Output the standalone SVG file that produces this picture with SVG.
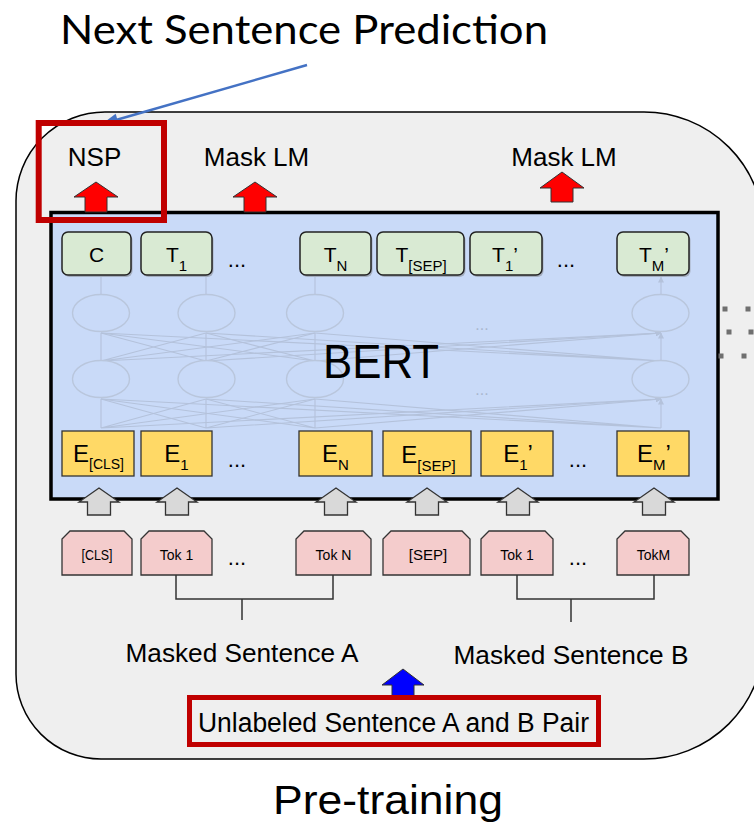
<svg xmlns="http://www.w3.org/2000/svg" width="754" height="822" viewBox="0 0 754 822">
<style>
.t{font-family:"Liberation Sans",Arial,sans-serif;fill:#000}
.tb{fill:#d9ead3;stroke:#222;stroke-width:1.5}
.sh{fill:#777;opacity:.45}
.eb{fill:#ffd966;stroke:#333;stroke-width:1.3}
.tk{fill:#f4cccc;stroke:#333;stroke-width:1.3}
.ra{fill:#ff0000;stroke:#333;stroke-width:1}
.ga{fill:#d9d9d9;stroke:#333;stroke-width:1.3}
.ba{fill:#0000ff;stroke:#333;stroke-width:1}
.br{fill:none;stroke:#333;stroke-width:1.5}
.nl{stroke:#b4c2db;stroke-width:1.1;fill:none}
.el{fill:#c9daf8;stroke:#b9c6dc;stroke-width:1.4}
.rb{fill:none;stroke:#c00000}
.dot{fill:#6f6f6f}
</style>
<defs>
<marker id="fa" viewBox="0 0 6 6" refX="5.5" refY="3" markerWidth="6" markerHeight="6" markerUnits="userSpaceOnUse" orient="auto">
<path d="M0,0 L6,3 L0,6 Z" fill="#b4c2db"/>
</marker>
</defs>
<rect width="754" height="822" fill="#fff"/>
<text class="t" x="60" y="44" font-family="Lato,'Open Sans',sans-serif" style="font-family:Lato,'Open Sans',sans-serif" font-size="40" textLength="488" lengthAdjust="spacingAndGlyphs">Next Sentence Prediction</text>

<g id="pretraining-frame">
<path d="M105,112 H644 A120,120 0 0 1 764,232 V639 A120,120 0 0 1 644,759 H101 A85,85 0 0 1 16,674 V201 A89,89 0 0 1 105,112 Z" fill="#efefef" stroke="#000" stroke-width="1.5"/>
</g>

<g id="bert">
<rect x="51" y="212.5" width="667" height="286.5" fill="#c9daf8" stroke="#000" stroke-width="3.5"/>
<g id="bert-internals">
<path class="nl" marker-end="url(#fa)" d="M101,295 V277 M206,295 V277 M315,295 V277 M661,295 V277"/>
<path class="nl" marker-end="url(#fa)" d="M101,361 L101,333 M101,361 L206,333 M101,361 L315,333 M101,361 L661,333"/>
<path class="nl" marker-end="url(#fa)" d="M206,361 L101,333 M206,361 L206,333 M206,361 L315,333 M206,361 L661,333"/>
<path class="nl" marker-end="url(#fa)" d="M315,361 L101,333 M315,361 L206,333 M315,361 L315,333 M315,361 L661,333"/>
<path class="nl" marker-end="url(#fa)" d="M661,361 L101,333 M661,361 L206,333 M661,361 L315,333 M661,361 L661,333"/>
<path class="nl" marker-end="url(#fa)" d="M101,428 L101,399 M101,428 L206,399 M101,428 L315,399 M101,428 L661,399"/>
<path class="nl" marker-end="url(#fa)" d="M206,428 L101,399 M206,428 L206,399 M206,428 L315,399 M206,428 L661,399"/>
<path class="nl" marker-end="url(#fa)" d="M315,428 L101,399 M315,428 L206,399 M315,428 L315,399 M315,428 L661,399"/>
<path class="nl" marker-end="url(#fa)" d="M661,428 L101,399 M661,428 L206,399 M661,428 L315,399 M661,428 L661,399"/>
<ellipse class="el" cx="101" cy="313" rx="28.5" ry="18.5"/>
<ellipse class="el" cx="206.5" cy="313" rx="28.5" ry="18.5"/>
<ellipse class="el" cx="315" cy="313" rx="28.5" ry="18.5"/>
<ellipse class="el" cx="660.5" cy="313" rx="28.5" ry="18.5"/>
<ellipse class="el" cx="101" cy="379" rx="28.5" ry="18.5"/>
<ellipse class="el" cx="206.5" cy="379" rx="28.5" ry="18.5"/>
<ellipse class="el" cx="315" cy="379" rx="28.5" ry="18.5"/>
<ellipse class="el" cx="660.5" cy="379" rx="28.5" ry="18.5"/>
<text x="482" y="330" font-family="Liberation Sans,Arial,sans-serif" font-size="16" fill="#aab7cf" text-anchor="middle">...</text>
<text x="482" y="395" font-family="Liberation Sans,Arial,sans-serif" font-size="16" fill="#aab7cf" text-anchor="middle">...</text>
</g>
<text class="t" x="381" y="378" font-size="49" text-anchor="middle" textLength="116" lengthAdjust="spacingAndGlyphs">BERT</text>
</g>

<g id="out-C"><rect class="sh" x="63.5" y="234" width="69" height="43" rx="6"/><rect class="tb" x="62" y="232" width="69" height="43" rx="6"/><text class="t" x="96.5" y="262" font-size="21" text-anchor="middle">C</text></g>
<g id="out-T1"><rect class="sh" x="142.5" y="234" width="71" height="43" rx="6"/><rect class="tb" x="141" y="232" width="71" height="43" rx="6"/><text class="t" x="176.5" y="262" font-size="21" text-anchor="middle">T<tspan font-size="15" dy="9">1</tspan></text></g>
<g id="out-TN"><rect class="sh" x="301.5" y="234" width="71" height="43" rx="6"/><rect class="tb" x="300" y="232" width="71" height="43" rx="6"/><text class="t" x="335.5" y="262" font-size="21" text-anchor="middle">T<tspan font-size="15" dy="9">N</tspan></text></g>
<g id="out-TSEP"><rect class="sh" x="378.5" y="234" width="87" height="43" rx="6"/><rect class="tb" x="377" y="232" width="87" height="43" rx="6"/><text class="t" x="421" y="262" font-size="21" text-anchor="middle">T<tspan font-size="15" dy="9">[SEP]</tspan></text></g>
<g id="out-T1p"><rect class="sh" x="471.5" y="234" width="72" height="43" rx="6"/><rect class="tb" x="470" y="232" width="72" height="43" rx="6"/><text class="t" x="505" y="262" font-size="21" text-anchor="middle">T<tspan font-size="15" dy="9">1</tspan><tspan dy="-9">’</tspan></text></g>
<g id="out-TMp"><rect class="sh" x="618.5" y="234" width="72" height="43" rx="6"/><rect class="tb" x="617" y="232" width="72" height="43" rx="6"/><text class="t" x="654" y="262" font-size="21" text-anchor="middle">T<tspan font-size="15" dy="9">M</tspan><tspan dy="-9">’</tspan></text></g>
<text class="t" x="237" y="267" font-size="22" text-anchor="middle">...</text>
<text class="t" x="566" y="267" font-size="22" text-anchor="middle">...</text>

<g id="emb-CLS"><rect class="eb" x="62" y="431" width="72" height="45"/><text class="t" x="98.5" y="462" font-size="24" text-anchor="middle">E<tspan font-size="14" dy="7">[CLS]</tspan></text></g>
<g id="emb-1"><rect class="eb" x="141" y="431" width="71" height="45"/><text class="t" x="176.5" y="462" font-size="24" text-anchor="middle">E<tspan font-size="15" dy="8">1</tspan></text></g>
<g id="emb-N"><rect class="eb" x="299" y="431" width="73" height="45"/><text class="t" x="335.5" y="462" font-size="24" text-anchor="middle">E<tspan font-size="15" dy="8">N</tspan></text></g>
<g id="emb-SEP"><rect class="eb" x="383" y="431" width="88" height="45"/><text class="t" x="428.5" y="463" font-size="24" text-anchor="middle">E<tspan font-size="15" dy="8">[SEP]</tspan></text></g>
<g id="emb-1p"><rect class="eb" x="481" y="431" width="72" height="45"/><text class="t" x="518" y="462" font-size="24" text-anchor="middle">E<tspan font-size="15" dy="8">1</tspan><tspan dy="-8">’</tspan></text></g>
<g id="emb-Mp"><rect class="eb" x="617" y="431" width="72" height="45"/><text class="t" x="654" y="462" font-size="24" text-anchor="middle">E<tspan font-size="15" dy="8">M</tspan><tspan dy="-8">’</tspan></text></g>
<text class="t" x="237" y="467" font-size="22" text-anchor="middle">...</text>
<text class="t" x="578" y="467" font-size="22" text-anchor="middle">...</text>

<g id="tok-CLS"><path class="tk" d="M70,531 H124 L132,539 V575 H62 V539 Z"/><text class="t" x="97" y="560" font-size="14" text-anchor="middle" textLength="31" lengthAdjust="spacingAndGlyphs">[CLS]</text></g>
<g id="tok-A1"><path class="tk" d="M149,531 H204 L212,539 V575 H141 V539 Z"/><text class="t" x="176.5" y="560" font-size="14" text-anchor="middle">Tok 1</text></g>
<g id="tok-AN"><path class="tk" d="M304,531 H363 L371,539 V575 H296 V539 Z"/><text class="t" x="333.5" y="560" font-size="14" text-anchor="middle">Tok N</text></g>
<g id="tok-SEP"><path class="tk" d="M391,531 H462 L470,539 V575 H383 V539 Z"/><text class="t" x="428" y="560" font-size="15" text-anchor="middle">[SEP]</text></g>
<g id="tok-B1"><path class="tk" d="M489,531 H545 L553,539 V575 H481 V539 Z"/><text class="t" x="517" y="560" font-size="14" text-anchor="middle">Tok 1</text></g>
<g id="tok-BM"><path class="tk" d="M625,531 H681 L689,539 V575 H617 V539 Z"/><text class="t" x="653.5" y="560" font-size="14" text-anchor="middle">TokM</text></g>
<text class="t" x="237" y="565" font-size="22" text-anchor="middle">...</text>
<text class="t" x="578" y="565" font-size="22" text-anchor="middle">...</text>

<g id="connectors">
<path class="ra" d="M96,182 L118,197 L107,197 L107,212 L85,212 L85,197 L74,197 Z"/>
<path class="ra" d="M255,182 L277,197 L266,197 L266,212 L244,212 L244,197 L233,197 Z"/>
<path class="ra" d="M562,172 L584,188 L573,188 L573,202 L551,202 L551,188 L540,188 Z"/>
<path class="ga" d="M99,488 L119,502 L110.5,502 L110.5,515 L87.5,515 L87.5,502 L79,502 Z"/>
<path class="ga" d="M177,488 L197,502 L188.5,502 L188.5,515 L165.5,515 L165.5,502 L157,502 Z"/>
<path class="ga" d="M336,488 L356,502 L347.5,502 L347.5,515 L324.5,515 L324.5,502 L316,502 Z"/>
<path class="ga" d="M427,488 L447,502 L438.5,502 L438.5,515 L415.5,515 L415.5,502 L407,502 Z"/>
<path class="ga" d="M518,488 L538,502 L529.5,502 L529.5,515 L506.5,515 L506.5,502 L498,502 Z"/>
<path class="ga" d="M654,488 L674,502 L665.5,502 L665.5,515 L642.5,515 L642.5,502 L634,502 Z"/>
<path class="br" d="M176,575 V599 H333 V575 M242,599 V620"/>
<path class="br" d="M517,575 V599 H654 V575 M571,599 V622"/>
<path class="ba" d="M403,669 L424,685 L414,685 L414,698 L392,698 L392,685 L382,685 Z"/>
<line x1="307" y1="65" x2="116" y2="120" stroke="#4472c4" stroke-width="2.5"/>
<path d="M102,124 L119.1,125.4 L115.7,113.8 Z" fill="#4472c4"/>
</g>

<g id="nsp-highlight"><rect class="rb" x="38.7" y="123" width="125.3" height="97" stroke-width="6"/></g>
<g id="labels">
<text class="t" x="94.5" y="166" font-size="26" text-anchor="middle">NSP</text>
<text class="t" x="256.5" y="166" font-size="26" text-anchor="middle">Mask LM</text>
<text class="t" x="564" y="166" font-size="26" text-anchor="middle">Mask LM</text>
<text class="t" x="242" y="662" font-size="25" text-anchor="middle" textLength="233" lengthAdjust="spacingAndGlyphs">Masked Sentence A</text>
<text class="t" x="571" y="664" font-size="25" text-anchor="middle" textLength="235" lengthAdjust="spacingAndGlyphs">Masked Sentence B</text>
<text class="t" x="388" y="814" font-size="40" text-anchor="middle" textLength="230" lengthAdjust="spacingAndGlyphs">Pre-training</text>
</g>
<g id="input-pair">
<rect class="rb" x="189.5" y="697.5" width="409" height="47" stroke-width="5"/>
<text class="t" x="393.5" y="732" font-size="27" text-anchor="middle" textLength="391" lengthAdjust="spacingAndGlyphs">Unlabeled Sentence A and B Pair</text>
</g>
<g id="more-dots">
<rect class="dot" x="722.5" y="306.5" width="5" height="5"/><rect class="dot" x="745.5" y="306.5" width="5" height="5"/>
<rect class="dot" x="726.5" y="329.5" width="5" height="5"/><rect class="dot" x="748.5" y="329.5" width="5" height="5"/>
<rect class="dot" x="718.5" y="353.5" width="5" height="5"/><rect class="dot" x="741.5" y="353.5" width="5" height="5"/>
</g>
</svg>
